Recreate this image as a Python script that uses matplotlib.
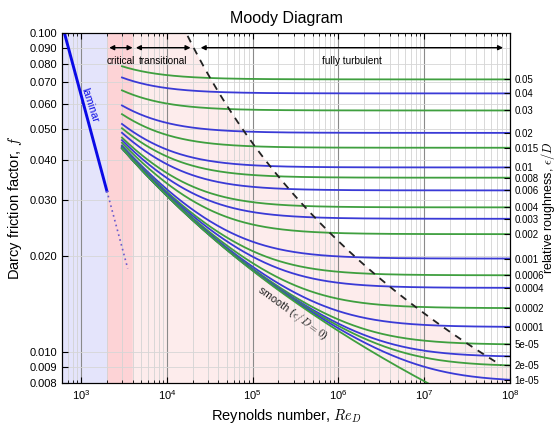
import numpy as np
import matplotlib
matplotlib.use('Agg')
import matplotlib.pyplot as plt
from matplotlib.ticker import LogLocator, NullFormatter, NullLocator, FuncFormatter

plt.rcParams['font.family'] = ['Liberation Sans', 'DejaVu Sans']
plt.rcParams['mathtext.fontset'] = 'cm'

# Rugosidad relativa de cada curva (0 = tubo liso)
rugosidad = [0.05, 0.04, 0.03, 0.02, 0.015, 0.01, 0.008, 0.006, 0.004, 0.003,
             0.002, 0.001, 6e-4, 4e-4, 2e-4, 1e-4, 5e-5, 3e-5, 2e-5, 1e-5, 0.0]
etiquetas_rug = ['0.05', '0.04', '0.03', '0.02', '0.015', '0.01', '0.008', '0.006',
                 '0.004', '0.003', '0.002', '0.001', '0.0006', '0.0004', '0.0002',
                 '0.0001', '5e-05', '', '2e-05', '1e-05', '']
colores_curvas = ['#3f9f3f', '#3a3ad6']

# Limites de regimen (numero de Reynolds)
re_inicio_curvas = 3000
re_fin = 1e8
re_laminar = 2000
re_critico = 4000
re_laminar_punteado = 3500
re_min_eje = 600

# Frontera de flujo totalmente turbulento: f a 1% del valor totalmente rugoso
tolerancia_rugoso = 0.01
rug_frontera = (0.15, 2e-5)

f_ticks = [0.008, 0.009, 0.010, 0.020, 0.030, 0.040, 0.050, 0.060, 0.070, 0.080, 0.090, 0.100]
f_min, f_max = 0.008, 0.1

# Flechas de regimen (inicio, fin en Re)
flecha_critico = (2130, 3990)
flecha_transicion = (4360, 18900)
flecha_turbulento = (24800, 8.3e7)


def colebrook(re, eps):
    x = np.full_like(re, 7.0)
    for _ in range(80):
        x = -2.0 * np.log10(eps / 3.7 + 2.51 * x / re)
    return 1.0 / x ** 2


fig = plt.figure(figsize=(5.59, 4.32), dpi=100)
ax = fig.add_axes([62 / 559, 1 - 383 / 432, 448 / 559, 350 / 432])
ax.set_xscale('log')
ax.set_yscale('log')
ax.set_xlim(re_min_eje, re_fin)
ax.set_ylim(f_min, f_max)

# Zonas de fondo
ax.axvspan(re_min_eje, re_laminar, color='#e4e4fb', zorder=0, lw=0)
ax.axvspan(re_laminar, re_critico, color='#fdd3d6', zorder=0, lw=0)

eps_d = np.logspace(np.log10(rug_frontera[0]), np.log10(rug_frontera[1]), 300)
f_rug = (-2.0 * np.log10(eps_d / 3.7)) ** -2
f_d = (1 + tolerancia_rugoso) * f_rug
re_d = 2.51 / (np.sqrt(f_d) * (10 ** (-1.0 / (2 * np.sqrt(f_d))) - eps_d / 3.7))

poli_x = np.concatenate([[re_critico, re_critico], re_d, [re_fin, re_fin]])
poli_y = np.concatenate([[f_min, f_d[0]], f_d, [f_d[-1], f_min]])
ax.fill(poli_x, poli_y, color='#fdecec', zorder=0, lw=0)

# Laminar
re_lam = np.logspace(np.log10(re_min_eje), np.log10(re_laminar), 50)
ax.plot(re_lam, 64 / re_lam, color='#0a0ae6', lw=2.1, zorder=4)
re_lam2 = np.logspace(np.log10(re_laminar), np.log10(re_laminar_punteado), 30)
ax.plot(re_lam2, 64 / re_lam2, color='#6a5acd', lw=1.2, ls=(0, (1, 2)), zorder=4)

# Curvas de Colebrook
re = np.logspace(np.log10(re_inicio_curvas), np.log10(re_fin), 400)
f_final = []
for i, eps in enumerate(rugosidad):
    f = colebrook(re, eps)
    ax.plot(re, f, color=colores_curvas[i % 2], lw=1.3, zorder=3)
    f_final.append(f[-1])

# Frontera turbulenta
ax.plot(re_d, f_d, color='#222222', lw=1.3, ls=(0, (4, 3.5)), zorder=5)

# Rejilla y ejes
ax.set_axisbelow(True)
ax.xaxis.set_major_locator(LogLocator(base=10, numticks=10))
ax.xaxis.set_minor_locator(LogLocator(base=10, subs=np.arange(2, 10), numticks=20))
ax.xaxis.set_minor_formatter(NullFormatter())
ax.xaxis.set_major_formatter(FuncFormatter(lambda v, p: r'$\mathregular{10^{%d}}$' % round(np.log10(v))))
ax.set_yticks(f_ticks)
ax.yaxis.set_minor_locator(NullLocator())
ax.yaxis.set_major_formatter(FuncFormatter(lambda v, p: '%.3f' % v))
ax.grid(which='major', axis='x', color='#8a8a8a', lw=0.8)
ax.grid(which='minor', axis='x', color='#d3d3d3', lw=0.6)
ax.grid(which='major', axis='y', color='#d6d6d6', lw=0.6)
ax.tick_params(which='both', direction='in', top=True, labelsize=8)
ax.tick_params(which='major', length=4)
ax.tick_params(which='minor', length=2.5)

ax2 = ax.twinx()
ax2.set_yscale('log')
ax2.set_ylim(f_min, f_max)
pos_der = [f for f in f_final if f > f_min]
ax2.set_yticks(pos_der, labels=etiquetas_rug[:len(pos_der)])
ax2.set_yticks([], minor=True)
ax2.tick_params(direction='in', length=4, labelsize=7, pad=3)

ax.set_title('Moody Diagram', fontsize=11.5, pad=7)
ax.set_xlabel(r'Reynolds number, $Re_D$', fontsize=10.5, labelpad=4)
ax.set_ylabel(r'Darcy friction factor, $f$', fontsize=10.5, labelpad=4)
fig.text(0.997, 0.52, r'relative roughness, $\epsilon/D$', rotation=90,
         ha='right', va='center', fontsize=9)

# Etiquetas de regimen
ax.text(1270, 0.0594, 'laminar', color='#0a0ae6', fontsize=7.8, rotation=-72,
        ha='center', va='center')
ax.text(2.9e5, 0.0132, r'smooth ($\epsilon/D=0$)', color='#222222', fontsize=7.8,
        rotation=-36, ha='center', va='center')

y_flecha = 0.958
y_texto = 0.92
for (a, b), nombre in zip([flecha_critico, flecha_transicion, flecha_turbulento],
                          ['critical', 'transitional', 'fully turbulent']):
    ax.annotate('', xy=(b, y_flecha), xytext=(a, y_flecha),
                xycoords=('data', 'axes fraction'), textcoords=('data', 'axes fraction'),
                arrowprops=dict(arrowstyle='<|-|>', color='black', lw=1,
                                mutation_scale=7, shrinkA=0, shrinkB=0))
    ax.text(np.sqrt(a * b), y_texto, nombre, transform=ax.get_xaxis_transform(),
            ha='center', va='center', fontsize=7.2)

fig.savefig('out.png', dpi=100)
